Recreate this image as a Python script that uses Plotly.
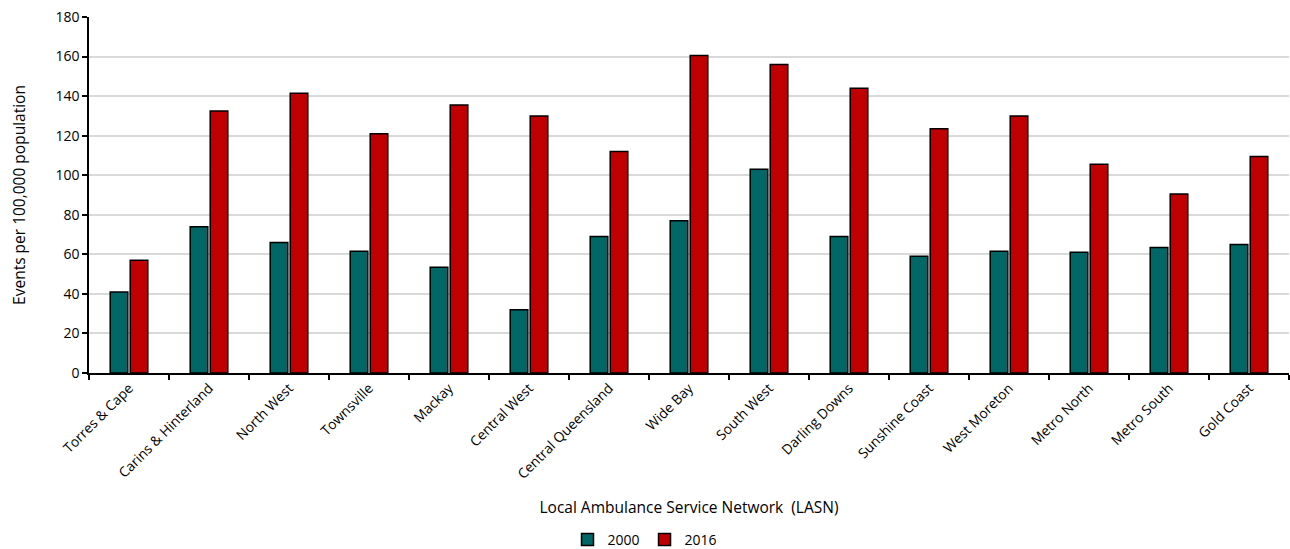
import plotly.graph_objects as go

networks = ["Torres & Cape", "Carins & Hinterland", "North West", "Townsville", "Mackay",
            "Central West", "Central Queensland", "Wide Bay", "South West", "Darling Downs",
            "Sunshine Coast", "West Moreton", "Metro North", "Metro South", "Gold Coast"]
rate_2000 = [41, 74, 66, 61.5, 53.5, 32, 69, 77, 103, 69, 59, 61.5, 61, 63.5, 65]
rate_2016 = [57, 132.5, 141.5, 121, 135.5, 130, 112, 160.5, 156, 144, 123.5, 130, 105.5, 90.5, 109.5]

FONT = "Open Sans"

fig = go.Figure()
fig.add_trace(go.Bar(x=networks, y=rate_2000, name="2000",
                     marker=dict(color="#006666", line=dict(color="black", width=1.5))))
fig.add_trace(go.Bar(x=networks, y=rate_2016, name="2016",
                     marker=dict(color="#c00000", line=dict(color="black", width=1.5))))

fig.update_layout(
    width=1290, height=549,
    margin=dict(l=89, r=1, t=17, b=176),
    barmode="group", bargap=0.5, bargroupgap=0.12,
    plot_bgcolor="white", paper_bgcolor="white",
    font=dict(family=FONT, size=13, color="black"),
    showlegend=True,
    legend=dict(orientation="h", x=0.5, xanchor="center", xref="container",
                y=9 / 549, yanchor="middle", yref="container",
                font=dict(size=14), itemwidth=30, traceorder="normal"),
    xaxis=dict(
        type="category", tickangle=-45, tickson="boundaries", automargin=False,
        ticks="outside", ticklen=5, tickcolor="black", tickwidth=1.5,
        showline=True, linecolor="black", linewidth=1.5,
        title=dict(text="Local Ambulance Service Network  (LASN)", font=dict(size=15.5), standoff=21),
        tickfont=dict(size=13.8),
    ),
    yaxis=dict(
        range=[0, 180], dtick=20, ticks="outside", ticklen=5, tickcolor="black", tickwidth=1.5,
        showline=True, linecolor="black", linewidth=1.5, automargin=False,
        showgrid=True, gridcolor="#d9d9d9", gridwidth=1.5, zeroline=False,
        title=dict(text="Events per 100,000 population", font=dict(size=15.5), standoff=26),
        tickfont=dict(size=14),
    ),
)

fig.write_html("out.html")
